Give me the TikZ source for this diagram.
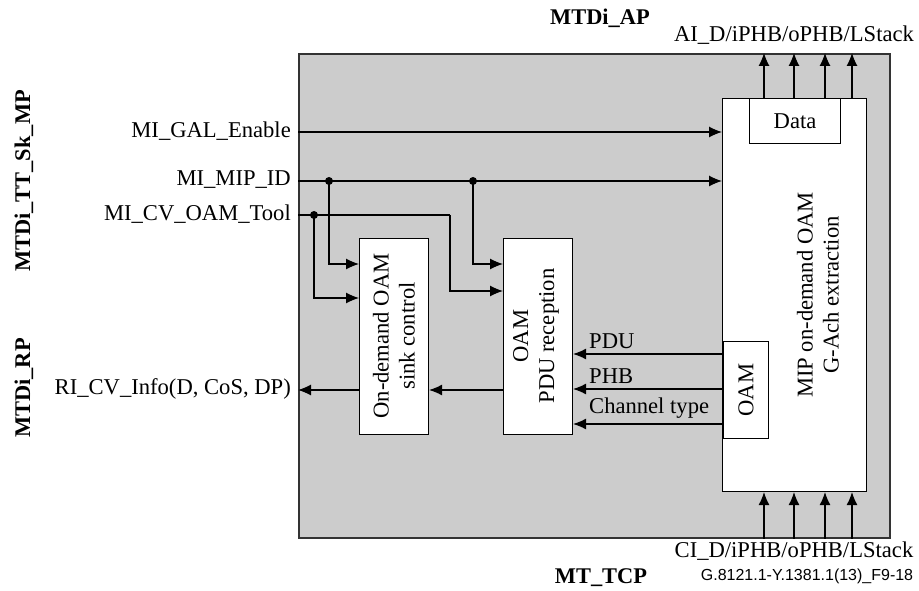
\documentclass[tikz,border=0pt]{standalone}
\usepackage{fontspec}
\setmainfont{Liberation Serif}
\newfontfamily\figsans{Liberation Sans}
\usetikzlibrary{arrows.meta}
\definecolor{panelgray}{HTML}{CCCCCC}
\definecolor{framecol}{HTML}{333333}
\begin{document}
\begin{tikzpicture}[x=1pt,y=-1pt,
  lbl/.style={font=\fontsize{22.6}{26}\selectfont, inner sep=0pt},
  blbl/.style={font=\fontsize{22.4}{26}\selectfont\bfseries, inner sep=0pt},
  blk/.style={draw, fill=white, line width=1.1pt, inner sep=0pt, anchor=north west},
  conn/.style={line width=1.1pt, -{Latex[length=13pt,width=11pt]}},
  wire/.style={line width=1.1pt},
  jdot/.style={circle, fill, inner sep=0pt, minimum size=8pt}]
\useasboundingbox (0,0) rectangle (919,591);
% frame
\node[draw=framecol, fill=panelgray, line width=1.8pt, inner sep=0pt, anchor=north west,
      minimum width=591pt, minimum height=484pt] (frame) at (298,53) {};
% blocks
\node[blk, minimum width=144pt, minimum height=393pt] (big) at (722,98) {};
\node[blk, minimum width=91pt, minimum height=45pt] (data) at (749,98) {};
\node[lbl] (datat) at (data.center) {Data};
\node[blk, minimum width=45pt, minimum height=97pt] (oam) at (723,341) {};
\node[lbl, rotate=90] (oamt) at (oam.center) {OAM};
\node[blk, minimum width=69pt, minimum height=196pt] (sink) at (359,238) {};
\node[lbl, rotate=90, align=center] (sinkt) at (394,336) {On-demand OAM\\sink control};
\node[blk, minimum width=69pt, minimum height=196pt] (pdu) at (503,238) {};
\node[lbl, rotate=90, align=center] (pdut) at (536,336) {OAM\\PDU reception};
\node[lbl, rotate=90, align=center] (bigt) at (818,295) {MIP on-demand OAM\\G-Ach extraction};
% outside labels
\node[blbl] (apl) at (600,18) {MTDi\_AP};
\node[lbl] (ail) at (794,35) {AI\_D/iPHB/oPHB/LStack};
\node[lbl] (cil) at (794,551) {CI\_D/iPHB/oPHB/LStack};
\node[blbl] (tcp) at (601,578) {MT\_TCP};
\node[inner sep=0pt, font=\figsans\fontsize{16}{19}\selectfont] (gref) at (807,576) {G.8121.1-Y.1381.1(13)\_F9-18};
\node[blbl, rotate=90] (ttsk) at (24,181) {MTDi\_TT\_Sk\_MP};
\node[blbl, rotate=90] (rp) at (24,388) {MTDi\_RP};
\node[lbl, anchor=east] (gal) at (291,131) {MI\_GAL\_Enable};
\node[lbl, anchor=east] (mip) at (291,180) {MI\_MIP\_ID};
\node[lbl, anchor=east] (cv) at (291,214) {MI\_CV\_OAM\_Tool};
\node[lbl, anchor=east] (ri) at (291,389) {RI\_CV\_Info(D, CoS, DP)};
% input wires
\draw[conn] (frame.west |- 0,132) -- (big.west |- 0,132);
\draw[conn] (frame.west |- 0,181) -- (big.west |- 0,181);
\node[jdot] (d1) at (329,181) {};
\node[jdot] (d2) at (473,181) {};
\node[jdot] (d3) at (314,215) {};
\coordinate (cvbend) at (450,215);
\draw[wire] (frame.west |- 0,215) -- (cvbend);
\draw[conn] (cvbend) |- (pdu.west |- 0,291);
\draw[conn] (d1.center) |- (sink.west |- 0,264);
\draw[conn] (d2.center) |- (pdu.west |- 0,264);
\draw[conn] (d3.center) |- (sink.west |- 0,298);
% outputs
\draw[conn] (pdu.west |- 0,390) -- (sink.east |- 0,390);
\draw[conn] (sink.west |- 0,390) -- (frame.west |- 0,390);
% OAM to PDU
\draw[conn] (big.west |- 0,354) -- (pdu.east |- 0,354);
\draw[conn] (big.west |- 0,389) -- (pdu.east |- 0,389);
\draw[conn] (big.west |- 0,424) -- (pdu.east |- 0,424);
\node[lbl, anchor=south west] (lpdu) at (589,349) {PDU};
\node[lbl, anchor=south west] (lphb) at (589,384) {PHB};
\node[lbl, anchor=south west] (lch) at (589,419) {Channel type};
% up arrows
\foreach \xx in {764,794,825,852} {
  \draw[conn] (big.north -| \xx,0) -- (frame.north -| \xx,0);
  \draw[conn] (frame.south -| \xx,0) -- (big.south -| \xx,0);
}
\end{tikzpicture}
\end{document}
